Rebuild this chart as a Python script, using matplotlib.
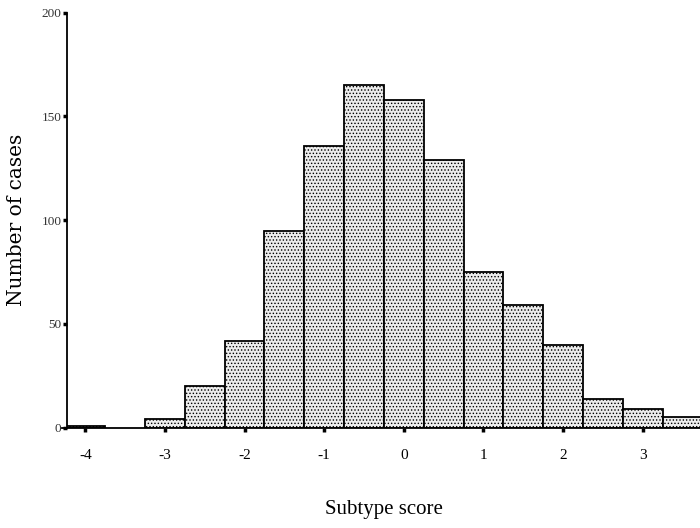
import numpy as np
import matplotlib
matplotlib.use('Agg')
import matplotlib.pyplot as plt

# histogram of subtype scores, bins 0.5 wide
centers = [-4.0, -3.0, -2.5, -2.0, -1.5, -1.0, -0.5, 0.0, 0.5, 1.0, 1.5, 2.0, 2.5, 3.0, 3.5]
counts = [1, 4, 20, 42, 95, 136, 165, 158, 129, 75, 59, 40, 14, 9, 5]
xticks = [-4, -3, -2, -1, 0, 1, 2, 3]
yticks = [0, 50, 100, 150, 200]

plt.rcParams['font.family'] = ['Liberation Serif', 'DejaVu Serif']
plt.rcParams['axes.unicode_minus'] = False
plt.rcParams['hatch.color'] = '#a8a8a8'
plt.rcParams['hatch.linewidth'] = 0.6

fig = plt.figure(figsize=(7, 5.28), dpi=100)
ax = fig.add_axes([67/700, 1-427.7/528, 1-67/700, 415/528])

ax.bar(centers, counts, width=0.5, color='#ececec', edgecolor='black',
       linewidth=1.3, hatch='.....')

ax.set_xlim(-4.23, 3.72)
ax.set_ylim(0, 200)
ax.set_xticks(xticks)
ax.set_yticks(yticks)
ax.spines['top'].set_visible(False)
ax.spines['right'].set_visible(False)
ax.spines['left'].set_linewidth(1.3)
ax.spines['bottom'].set_linewidth(1.3)
ax.spines['bottom'].set_bounds(-4.29, 3.72)
ax.tick_params(axis='x', direction='out', length=3, width=2.5, labelsize=11, pad=12)
ax.tick_params(axis='y', direction='out', length=3, width=2.5, labelsize=9.5,
               labelcolor='#333333', pad=1)

ax.set_xlabel('Subtype score', fontsize=15)
ax.xaxis.set_label_coords(0.5, -0.175)
ax.set_ylabel('Number of cases', fontsize=14.5, family=['DejaVu Serif'])
ax.yaxis.set_label_coords(-0.064, 0.5)

plt.savefig('out.png', dpi=100)
